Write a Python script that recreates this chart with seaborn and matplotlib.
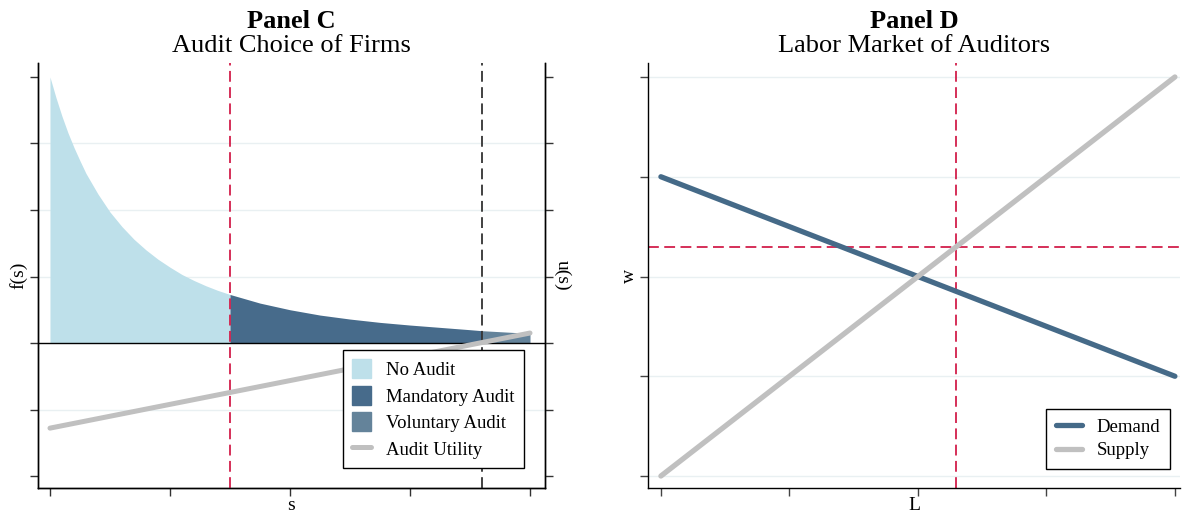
import matplotlib
matplotlib.use("Agg")
import matplotlib.pyplot as plt
from matplotlib.patches import Patch
from matplotlib.lines import Line2D
import numpy as np
import seaborn as sns

# Panel C: firm size s, density f(s) and audit utility u(s)
s_grid = [0.0, 0.05, 0.1, 0.15, 0.2, 0.25, 0.3, 0.4, 0.5, 0.6, 0.7, 0.8, 0.9,
          1.0, 1.1, 1.2, 1.3, 1.4, 1.5,
          1.75, 2.0, 2.25, 2.5, 2.75, 3.0, 3.25, 3.5, 3.6, 3.75, 4.0]
f_density = [4.00, 3.69, 3.41, 3.16, 2.94, 2.74, 2.55, 2.24, 1.97, 1.75, 1.56,
             1.40, 1.26, 1.14, 1.03, 0.94, 0.86, 0.79, 0.73,
             0.60, 0.50, 0.42, 0.36, 0.31, 0.27, 0.235, 0.20, 0.185, 0.17, 0.145]
s_util = [0.0, 4.0]
u_util = [-1.28, 0.15]
s_mandatory = 1.5     # mandatory audit threshold
s_voluntary = 3.6     # u(s) = 0
c_ticks = [-2, -1, 0, 1, 2, 3, 4]
c_xticks = [0, 1, 2, 3, 4]

# Panel D: labor market of auditors
L_vals = [0.0, 4.0]
demand_w = [3.0, 1.0]
supply_w = [0.0, 4.0]
L_line = 2.3
w_line = 2.3
d_ticks = [0, 1, 2, 3, 4]

LIGHT = "#bee0ea"
MAND = "#476b8b"
VOL = "#64839a"
GREY = "#c0c0c0"
RED = "#d21f4b"
GRID = "#e9f0f2"

sns.set_theme(style="ticks")
plt.rcParams["font.family"] = ["Liberation Serif", "DejaVu Serif"]
plt.rcParams["axes.edgecolor"] = "black"
plt.rcParams["axes.linewidth"] = 1.0
plt.rcParams["text.color"] = "black"
plt.rcParams["axes.labelcolor"] = "black"

fig = plt.figure(figsize=(11.83, 5.14), dpi=100)
axc = fig.add_axes([0.0321, 0.0506, 0.4286, 0.8268])
axd = fig.add_axes([0.5478, 0.0506, 0.4497, 0.8268])

# ---- Panel C ----
s = np.array(s_grid)
f = np.array(f_density)
for lo, hi, col in [(0.0, s_mandatory, LIGHT), (s_mandatory, s_voluntary, MAND),
                    (s_voluntary, 4.0, VOL)]:
    m = (s >= lo) & (s <= hi)
    axc.fill_between(s[m], 0, f[m], color=col, linewidth=0, zorder=2)

for y in c_ticks[1:-1]:
    if y != 0:
        axc.axhline(y, color=GRID, lw=1, zorder=0)
axc.axhline(0, color="black", lw=1, zorder=3)
axc.axvline(s_mandatory, color=RED, lw=1.3, ls=(0, (6, 3)), zorder=3)
axc.axvline(s_voluntary, color="#333333", lw=1.3, ls=(0, (6, 3)), zorder=3)
sns.lineplot(x=s_util, y=u_util, ax=axc, color=GREY, linewidth=3.6, zorder=4)

axc.set_xlim(-0.1, 4.125)
axc.set_ylim(-2.18, 4.21)
axc.set_xticks(c_xticks)
axc.set_yticks(c_ticks)
axc.set_xticklabels([])
axc.set_yticklabels([])
axc.spines["top"].set_visible(False)
axc.tick_params(length=6, width=1, color="#333333")
axc.set_xlabel("s", fontsize=14, labelpad=-3)
axc.set_ylabel("f(s)", fontsize=14, labelpad=-2)

axr = axc.twinx()
axr.set_ylim(axc.get_ylim())
axr.set_yticks(c_ticks)
axr.set_yticklabels([])
axr.spines["top"].set_visible(False)
axr.tick_params(length=6, width=1, color="#333333")
axr.set_ylabel("u(s)", fontsize=14, rotation=270, labelpad=9)

handles = [Patch(color=LIGHT, label="No Audit"),
           Patch(color=MAND, label="Mandatory Audit"),
           Patch(color=VOL, label="Voluntary Audit"),
           Line2D([], [], color=GREY, lw=3.6, label="Audit Utility")]
leg = axr.legend(handles=handles, loc="lower right", bbox_to_anchor=(0.958, 0.047),
                 borderaxespad=0, fontsize=13.5, frameon=True, fancybox=False,
                 edgecolor="black", borderpad=0.5, handlelength=1.0,
                 handleheight=1.2, handletextpad=0.8, labelspacing=0.35)
leg.get_frame().set_linewidth(1)
leg.get_frame().set_alpha(1)

# ---- Panel D ----
for y in d_ticks:
    axd.axhline(y, color=GRID, lw=1, zorder=0)
axd.axvline(L_line, color=RED, lw=1.3, ls=(0, (6, 3)), zorder=1)
axd.axhline(w_line, color=RED, lw=1.3, ls=(0, (6, 3)), zorder=1)
sns.lineplot(x=L_vals, y=demand_w, ax=axd, color="#456a88", linewidth=3.8,
             label="Demand", zorder=3)
sns.lineplot(x=L_vals, y=supply_w, ax=axd, color=GREY, linewidth=3.8,
             label="Supply", zorder=4)
axd.set_xlim(-0.1, 4.04)
axd.set_ylim(-0.12, 4.14)
axd.set_xticks(d_ticks)
axd.set_yticks(d_ticks)
axd.set_xticklabels([])
axd.set_yticklabels([])
for side in ["top", "right"]:
    axd.spines[side].set_visible(False)
axd.tick_params(length=6, width=1, color="#444444")
axd.set_xlabel("L", fontsize=14, labelpad=-3)
axd.set_ylabel("w", fontsize=14, labelpad=-2)
leg2 = axd.legend(loc="lower right", bbox_to_anchor=(0.981, 0.045), borderaxespad=0,
                  fontsize=13.5, frameon=True, fancybox=False, edgecolor="black",
                  borderpad=0.5, handlelength=1.4, handletextpad=0.8,
                  labelspacing=0.35)
leg2.get_frame().set_linewidth(1)
leg2.get_frame().set_alpha(1)

# titles
for ax, head, sub in [(axc, "Panel C", "Audit Choice of Firms"),
                      (axd, "Panel D", "Labor Market of Auditors")]:
    x = (ax.get_position().x0 + ax.get_position().x1) / 2
    fig.text(x, 0.959, head, ha="center", va="center", fontsize=19, fontweight="bold")
    fig.text(x, 0.91, sub, ha="center", va="center", fontsize=19)

fig.savefig("out.png", dpi=100)
